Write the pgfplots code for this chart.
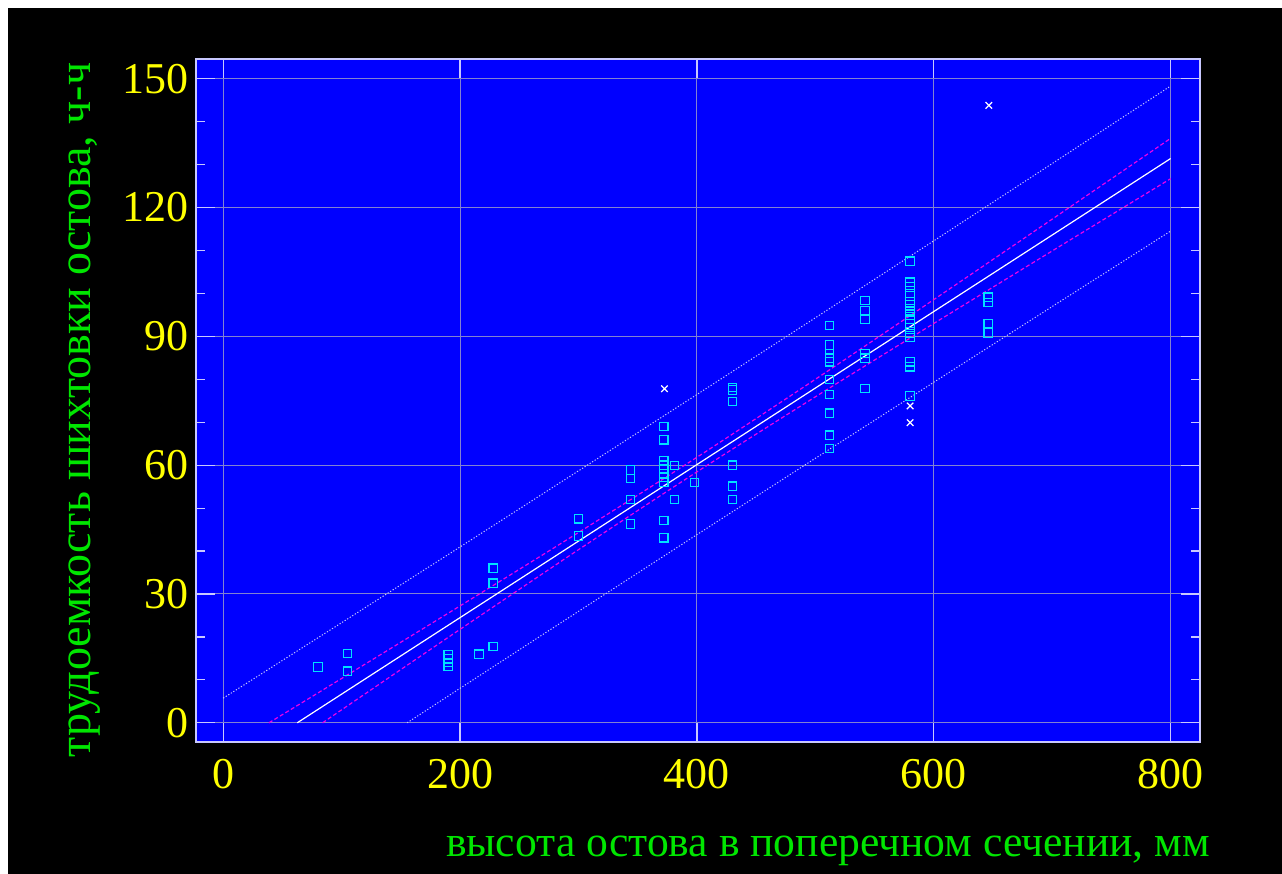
\documentclass[border=0pt]{standalone}
\usepackage{fontspec}
\setmainfont{Liberation Serif}
\usepackage{pgfplots}
\pgfplotsset{compat=1.18}
\definecolor{plotblue}{RGB}{0,0,255}
\definecolor{framecol}{RGB}{200,200,255}
\definecolor{gridcol}{RGB}{130,130,210}
\definecolor{tickyellow}{RGB}{255,255,0}
\definecolor{labgreen}{RGB}{0,230,0}
\definecolor{markcyan}{RGB}{0,225,255}
\definecolor{bandmag}{RGB}{235,0,235}
\definecolor{dotcol}{RGB}{200,200,255}
\begin{document}
\begin{tikzpicture}
\fill[white] (-98pt,-66pt) rectangle (543pt,371pt);
\fill[black] (-94pt,-66pt) rectangle (543pt,367pt);
\useasboundingbox (-98pt,-66pt) rectangle (543pt,371pt);
\begin{axis}[
  at={(0pt,0pt)}, anchor=south west,
  scale only axis, width=502pt, height=341.5pt,
  xmin=-23, xmax=824.8, ymin=-4.47, ymax=154.6,
  axis background/.style={fill=plotblue},
  axis line style={draw=framecol, line width=0.8pt},
  grid=major, major grid style={draw=gridcol, line width=0.5pt},
  xtick={0,200,400,600,800}, ytick={0,30,60,90,120,150},
  minor y tick num=2,
  tick align=inside,
  major tick length=9.5pt, minor tick length=4.5pt,
  tick style={draw=framecol, line width=0.6pt},
  /pgf/number format/assume math mode=true,
  ticklabel style={font=\fontsize{22}{26}\selectfont, text=tickyellow},
  xticklabel style={yshift=-5pt},
  label style={text=labgreen, inner sep=0pt},
  xlabel={высота остова в поперечном сечении, мм},
  ylabel={трудоемкость шихтовки остова, ч-ч},
  xlabel style={font=\fontsize{21.8}{26}\selectfont, at={(rel axis cs:1.0100,-0.168)}, anchor=base east},
  ylabel style={font=\fontsize{23}{27}\selectfont, at={(rel axis cs:-0.1106,0.486)}, anchor=center},
]
% prediction band (dotted)
\addplot[dotcol, line width=0.5pt, dash pattern=on 0.6pt off 0.9pt] coordinates {
 (0,5.74) (100,23.32) (200,40.96) (300,58.68) (400,76.46) (500,94.32) (600,112.25) (700,130.25) (800,148.32)};
\addplot[dotcol, line width=0.5pt, dash pattern=on 0.6pt off 0.9pt] coordinates {
 (155.3,0) (200,8.04) (300,25.96) (400,43.82) (500,61.6) (600,79.31) (700,96.95) (800,114.52)};
% confidence band (dashed magenta)
\addplot[bandmag, line width=0.6pt, dash pattern=on 2pt off 1.2pt, smooth] coordinates {
 (38.6,0) (50,1.91) (100,10.33) (200,27.23) (300,44.32) (400,61.84) (500,80.0) (600,98.56) (700,117.3) (800,136.12)};
\addplot[bandmag, line width=0.6pt, dash pattern=on 2pt off 1.2pt, smooth] coordinates {
 (83.9,0) (100,3.03) (200,21.77) (300,40.32) (400,58.44) (500,75.92) (600,93.0) (700,109.9) (800,126.72)};
% regression line
\addplot[white, line width=0.6pt] coordinates {(62.5,0) (800,131.42)};
% observations
\addplot[only marks, mark=square, mark size=2.1pt, mark options={draw=markcyan, line width=0.6pt}] coordinates {
 (80,13.0) (105,16.1) (105,12.0)
 (190,15.8) (190,14.9) (190,14.0) (190,13.1)
 (216,16.0) (228,17.8) (228,32.5) (228,36.0)
 (300,47.5) (300,43.5)
 (344,58.9) (344,56.9) (344,52.0) (344,46.3)
 (372,69.0) (372,65.9) (372,61.0) (372,60.0) (372,58.1) (372,57.2) (372,56.0) (372,47.1) (372,43.1)
 (381,59.9) (381,52.0) (398,56.0)
 (430,78.1) (430,77.5) (430,74.8) (430,60.0) (430,55.1) (430,52.0)
 (512,92.5) (512,88.0) (512,86.0) (512,84.9) (512,84.1) (512,80.0) (512,76.5) (512,72.1) (512,67.0) (512,63.9)
 (542,98.4) (542,96.0) (542,93.9) (542,86.0) (542,84.9) (542,77.9)
 (580,107.5) (580,102.6) (580,101.5) (580,100.0) (580,98.0) (580,97.3) (580,96.5) (580,95.7) (580,95.0) (580,94.0) (580,93.0) (580,92.1) (580,90.7) (580,89.7) (580,84.1) (580,82.9) (580,76.1)
 (646,99.1) (646,97.9) (646,93.0) (646,90.8)};
% outliers
\addplot[only marks, mark=x, mark size=2.3pt, mark options={draw=white, line width=0.6pt}] coordinates {
 (372.6,77.8) (580,73.8) (580,69.9) (646.5,143.8)};
\end{axis}
\end{tikzpicture}
\end{document}
